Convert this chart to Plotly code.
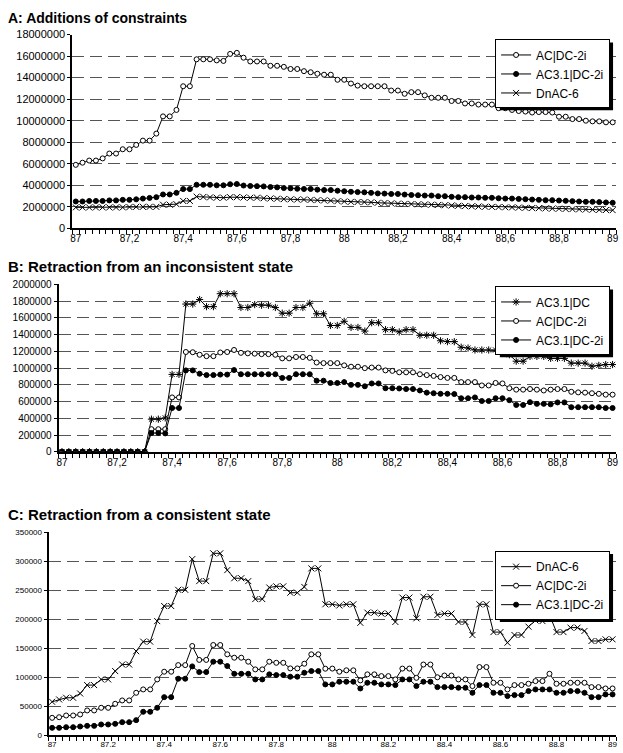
import plotly.graph_objects as go

W, H = 623, 753
FONT = "Arial, Liberation Sans, sans-serif"

# ---------------- data ----------------
N_POINTS = 81
X_START, X_STEP = 87.0, 0.025
x = [round(X_START + X_STEP * i, 4) for i in range(N_POINTS)]

TICKS_AB = ["87", "87,2", "87,4", "87,6", "87,8", "88", "88,2", "88,4", "88,6", "88,8", "89"]
TICKS_C = ["87", "87.2", "87.4", "87.6", "87.8", "88", "88.2", "88.4", "88.6", "88.8", "89"]

# Panel A (values in millions)
A_ACDC2i = [5.9, 6.1, 6.3, 6.3, 6.5, 6.95, 6.95, 7.35, 7.35, 7.75, 8.15, 8.15, 8.8, 10.4, 10.4, 11.0,
            13.2, 13.2, 15.7, 15.7, 15.7, 15.6, 15.55, 16.2, 16.3, 15.85, 15.5, 15.5, 15.5, 15.1, 15.1,
            15.0, 14.8, 14.8,
            14.6, 14.5, 14.36, 14.27, 14.27, 13.8, 13.8, 13.45, 13.26, 13.2, 13.2, 13.2, 13.2, 12.8,
            12.8, 12.5, 12.65, 12.65, 12.35, 12.13, 12.13, 12.13, 11.83, 11.83, 11.6, 11.6, 11.5, 11.5,
            11.5, 11.16, 11.16, 11.0, 10.9, 10.85, 10.76, 10.8, 10.8, 10.76, 10.37, 10.37, 10.15, 10.15,
            10.0, 9.94, 9.94, 9.85, 9.85]
A_AC31DC2i = [2.5, 2.5, 2.55, 2.55, 2.55, 2.6, 2.6, 2.65, 2.65, 2.7, 2.77, 2.83, 2.9, 3.15, 3.15, 3.3,
              3.65, 3.65, 4.05, 4.05, 4.05, 4.0, 4.0, 4.1, 4.12, 3.98, 3.94, 3.92, 3.9, 3.84, 3.81, 3.75,
              3.72,
              3.68, 3.66, 3.66, 3.6, 3.56, 3.56, 3.5, 3.45, 3.4, 3.37, 3.35, 3.3, 3.25, 3.23, 3.2, 3.2,
              3.14, 3.1, 3.08, 3.05, 3.05, 2.99, 2.99, 2.93, 2.9, 2.9, 2.87, 2.87, 2.84, 2.84, 2.8, 2.77,
              2.77, 2.74, 2.71, 2.68, 2.65, 2.62, 2.62, 2.59, 2.56, 2.53, 2.5, 2.47, 2.47, 2.44, 2.41, 2.38]
A_DnAC6 = [1.95, 1.95, 1.95, 1.95, 1.95, 1.95, 1.95, 1.95, 1.98, 2.0, 2.0, 2.0, 2.0, 2.2, 2.2, 2.25,
           2.55, 2.55, 2.95, 2.92, 2.88, 2.85, 2.85, 2.9, 2.9, 2.87, 2.85, 2.85, 2.8, 2.78, 2.76, 2.72, 2.7,
           2.68, 2.68, 2.65, 2.62, 2.6, 2.58, 2.53, 2.5, 2.47, 2.45, 2.44, 2.42, 2.38, 2.36, 2.32, 2.3,
           2.28, 2.26, 2.24, 2.22, 2.2, 2.18, 2.15, 2.13, 2.1, 2.07, 2.05, 2.03, 2.01, 2.0, 1.98, 1.96,
           1.95, 1.93, 1.91, 1.89, 1.88, 1.86, 1.84, 1.83, 1.81, 1.79, 1.77, 1.76, 1.74, 1.72, 1.71, 1.69]

# Panel B (values in thousands)
B_AC31DC = [0] * 13 + [390, 390, 405, 925, 925, 1766, 1766, 1820, 1735, 1735, 1890, 1890, 1890, 1725,
            1725, 1760, 1752, 1752, 1725, 1657, 1657, 1725, 1725, 1776, 1650, 1650,
            1510, 1510, 1560, 1487, 1487, 1443, 1543, 1543, 1460, 1460, 1433, 1460, 1460, 1393, 1393,
            1393, 1327, 1317, 1317, 1250, 1240, 1217, 1217, 1217, 1217, 1210, 1160, 1083, 1083, 1140,
            1140, 1140, 1117, 1117, 1117, 1060, 1060, 1060, 1023, 1033, 1043, 1043]
B_ACDC2i = [0] * 13 + [270, 270, 270, 650, 650, 1193, 1190, 1160, 1143, 1143, 1187, 1193, 1217, 1183,
            1177, 1173, 1167, 1167, 1160, 1117, 1117, 1133, 1133, 1123, 1067, 1060,
            1060, 1060, 1033, 1017, 1017, 1000, 1007, 1007, 973, 967, 950, 950, 950, 927, 917, 907, 893,
            883, 883, 833, 833, 833, 793, 793, 823, 817, 760, 743, 743, 750, 743, 733, 743, 750, 750,
            717, 710, 707, 700, 693, 683, 683]
B_AC31DC2i = [0] * 13 + [225, 225, 220, 523, 523, 973, 973, 933, 917, 917, 923, 923, 977, 927, 927, 927,
              927, 927, 927, 883, 883, 927, 927, 927, 850, 850,
              823, 823, 833, 800, 800, 783, 817, 817, 760, 760, 757, 750, 750, 733, 707, 700, 693, 693,
              690, 640, 640, 650, 607, 607, 640, 640, 617, 560, 560, 593, 573, 573, 567, 590, 590, 533,
              533, 533, 533, 533, 523, 523]

# Panel C (values in thousands)
C_DnAC6 = [57.7, 61.7, 64.6, 64.6, 72, 86.5, 86.5, 96.3, 96.3, 110.7, 122, 122, 145, 161.5, 161.5, 197,
           223, 223, 251, 251, 304, 266, 266, 314, 314, 285, 271, 271, 266, 235, 235, 255, 257, 257, 246,
           246, 256, 288, 288, 226,
           226, 224, 226, 226, 194, 211.6, 211.6, 210, 210, 195.5, 237.6, 237.6, 201.8, 239, 239, 207.6,
           210, 210, 195.5, 195.5, 173, 226, 226, 178, 178, 159.7, 173, 173, 187.4, 198, 197, 207.6,
           178, 178, 185.7, 185.7, 180, 162.6, 162.6, 165.5, 165.5]
C_ACDC2i = [30, 31, 34, 34, 35.8, 42.7, 42.7, 47.3, 47.3, 54.2, 60, 60, 73.2, 79, 79, 96.3, 109.6, 109.6,
            121, 121, 154, 130, 130, 155.7, 155.7, 139.6, 133.8, 133.8, 126.9, 113.6, 113.6, 126.9, 125,
            125, 115.3, 115.3, 123.4, 139.6, 139.6, 114.8,
            115, 109.6, 112, 112, 94.6, 105, 105, 102, 102, 96.3, 115, 115, 99, 122, 122, 100, 103, 103,
            96.3, 96.3, 84.8, 117.6, 117.6, 90.5, 90.5, 79, 86.5, 86.5, 88.8, 93.4, 93.4, 106, 88.8, 88.8,
            90.5, 90.5, 90.5, 83, 83, 80.7, 80.7]
C_AC31DC2i = [12.7, 12.7, 13.8, 13.8, 15, 16.1, 16.1, 18.5, 18.5, 19.6, 22.5, 22.5, 26, 40.4, 40.4, 47.3,
              65.7, 65.7, 97.5, 97.5, 118.8, 109, 109, 126.9, 126.9, 119.4, 106, 106, 106, 96.3, 96.3,
              105, 103.8, 103.8, 101, 101, 107.8, 110.7, 110.7, 87.7,
              87.7, 92.3, 92.3, 92.3, 80.7, 90.5, 90.5, 87.7, 87.7, 86.5, 96.3, 96.3, 84.8, 92.3, 92.3,
              83, 83, 83, 81.9, 81.9, 73.2, 86.5, 86.5, 73.2, 73.2, 67.5, 69.2, 69.2, 76.1, 79, 79, 79,
              73.2, 73.2, 76.1, 76.1, 73.2, 65.7, 65.7, 70.4, 70.4]

# ---------------- styles ----------------
STY = {
    "AC|DC-2i": dict(symbol="circle", color="white", size=5),
    "AC3.1|DC-2i": dict(symbol="circle", color="black", size=5),
    "DnAC-6": dict(symbol="x-thin-open", color="black", size=6),
    "AC3.1|DC": dict(symbol="asterisk-open", color="black", size=6),
}

# legend geometry: (right edge px, top px, font size)
panels = [
    dict(title="A: Additions of constraints", tfs=14, box=(71, 29, 619, 226), ymax=18e6, dtick=2e6,
         ticks=TICKS_AB, yfs=11, xfs=10, title_y=12, legend=(613, 34, 12),
         series=[("AC|DC-2i", A_ACDC2i, 1e6), ("AC3.1|DC-2i", A_AC31DC2i, 1e6), ("DnAC-6", A_DnAC6, 1e6)]),
    dict(title="B: Retraction from an inconsistent state", tfs=15, box=(57, 283, 619, 453), ymax=2e6,
         dtick=2e5, ticks=TICKS_AB, yfs=10, xfs=10, title_y=265, legend=(613, 285, 12),
         series=[("AC3.1|DC", B_AC31DC, 1e3), ("AC|DC-2i", B_ACDC2i, 1e3), ("AC3.1|DC-2i", B_AC31DC2i, 1e3)]),
    dict(title="C: Retraction from a consistent state", tfs=15, box=(47, 535, 619, 741), ymax=3.5e5,
         dtick=5e4, ticks=TICKS_C, yfs=8, xfs=8, title_y=517, legend=(613, 554, 12),
         series=[("DnAC-6", C_DnAC6, 1e3), ("AC|DC-2i", C_ACDC2i, 1e3), ("AC3.1|DC-2i", C_AC31DC2i, 1e3)]),
]

fig = go.Figure()
layout = dict(width=W, height=H, margin=dict(l=0, r=0, t=0, b=0), paper_bgcolor="white",
              plot_bgcolor="white", font=dict(family=FONT, color="black"), showlegend=True)
annotations, shapes = [], []

for k, p in enumerate(panels):
    sfx = "" if k == 0 else str(k + 1)
    x0, y0, x1, y1 = p["box"]
    tickvals = [float(t.replace(",", ".")) for t in p["ticks"]]
    leg = "legend" + sfx
    for name, vals, scale in p["series"]:
        s = STY[name]
        fig.add_trace(go.Scatter(
            x=x, y=[v * scale for v in vals], name=name, mode="lines+markers",
            xaxis="x" + sfx, yaxis="y" + sfx, legend=leg,
            line=dict(color="black", width=1),
            marker=dict(symbol=s["symbol"], size=s["size"], color=s["color"],
                        line=dict(color="black", width=1)),
        ))
    layout["xaxis" + sfx] = dict(
        domain=[x0 / W, x1 / W], anchor="y" + sfx, range=[X_START - X_STEP / 2, x[-1] + X_STEP / 2],
        showgrid=False, zeroline=False, showline=True, linecolor="black", linewidth=1.5,
        tickmode="array", tickvals=tickvals, ticktext=p["ticks"], ticks="",
        tickfont=dict(size=p["xfs"], family=FONT, color="black"), fixedrange=True,
        minor=dict(tickmode="linear", tick0=X_START - X_STEP / 2, dtick=X_STEP, ticks="outside",
                   ticklen=4, tickwidth=1, tickcolor="black", showgrid=False),
    )
    layout["yaxis" + sfx] = dict(
        domain=[1 - y1 / H, 1 - y0 / H], anchor="x" + sfx, range=[0, p["ymax"]], dtick=p["dtick"],
        tickformat="d", showgrid=True, gridcolor="#555555", gridwidth=1, griddash="12px,6px",
        zeroline=False, showline=True, linecolor="black", linewidth=2, ticks="outside", ticklen=3,
        tickcolor="black", tickfont=dict(size=p["yfs"], family=FONT, color="black"), fixedrange=True,
    )
    lr, lt, lfs = p["legend"]
    layout[leg] = dict(x=lr / W, y=1 - lt / H, xanchor="right", yanchor="top", bgcolor="white",
                       bordercolor="black", borderwidth=1, font=dict(size=lfs, family=FONT, color="black"),
                       tracegroupgap=0, itemwidth=30)
    # estimated legend box size (plotly legend metrics) for the drop shadow
    lw = 5.594 * lfs + 47
    lh = 3 * (max(1.3 * lfs, 16) + 3) + 12
    shapes.append(dict(type="rect", xref="paper", yref="paper", x0=(lr - lw + 3) / W, x1=(lr + 3) / W,
                       y0=1 - (lt + lh + 3) / H, y1=1 - (lt + 3) / H, fillcolor="black",
                       line=dict(width=0), layer="above"))
    annotations.append(dict(text="<b>" + p["title"] + "</b>", xref="paper", yref="paper", x=4 / W,
                            y=1 - p["title_y"] / H, xanchor="left", yanchor="middle", showarrow=False,
                            font=dict(size=p["tfs"], family=FONT, color="black")))

layout["annotations"] = annotations
layout["shapes"] = shapes
fig.update_layout(**layout)
fig.write_html("out.html", config={"displayModeBar": False},
               post_script="document.body.style.margin='0';")
